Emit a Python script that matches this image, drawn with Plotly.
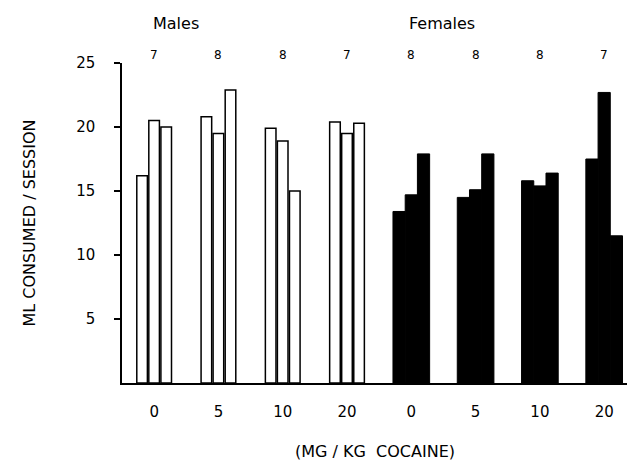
import plotly.graph_objects as go

doses = ["0", "5", "10", "20"]
sexes = ["Males", "Females"]
n_per_group = [7, 8, 8, 7, 8, 8, 8, 7]

# three bars per dose group (ml consumed / session)
male_a = [16.2, 20.8, 19.9, 20.4]
male_b = [20.5, 19.5, 18.9, 19.5]
male_c = [20.0, 22.9, 15.0, 20.3]
female_a = [13.4, 14.5, 15.8, 17.5]
female_b = [14.7, 15.1, 15.4, 22.7]
female_c = [17.9, 17.9, 16.4, 11.5]

tick_labels = doses + doses
male_x = list(range(len(doses)))
female_x = [i + len(doses) for i in range(len(doses))]
all_x = male_x + female_x

FONT = "DejaVu Sans"
fig = go.Figure()

male_offsets = [-0.27, -0.083, 0.105]
for vals, off in zip([male_a, male_b, male_c], male_offsets):
    fig.add_trace(go.Bar(
        x=male_x, y=vals, width=0.165, offset=off,
        marker=dict(color="white", line=dict(color="black", width=1.5)),
        showlegend=False,
    ))

female_offsets = [-0.285, -0.095, 0.095]
for vals, off in zip([female_a, female_b, female_c], female_offsets):
    fig.add_trace(go.Bar(
        x=female_x, y=vals, width=0.19, offset=off,
        marker=dict(color="black", line=dict(color="black", width=1)),
        showlegend=False,
    ))

annotations = []
for xi, n in zip(all_x, n_per_group):
    annotations.append(dict(
        x=xi, y=1.025, xref="x", yref="paper", text=str(n), showarrow=False,
        font=dict(family=FONT, size=12, color="black"), yanchor="middle",
    ))
for sex, xi in zip(sexes, [0.34, 4.48]):
    annotations.append(dict(
        x=xi, y=1.125, xref="x", yref="paper", text=sex, showarrow=False,
        font=dict(family=FONT, size=16, color="black"), yanchor="middle",
    ))
annotations.append(dict(
    x=0.5, xref="x domain", y=-0.215, yref="paper", text="(MG / KG  COCAINE)",
    showarrow=False, font=dict(family=FONT, size=16, color="black"), yanchor="middle",
))
annotations.append(dict(
    x=-0.185, xref="paper", y=0.5, yref="paper", text="ML CONSUMED / SESSION",
    textangle=-90, showarrow=False, font=dict(family=FONT, size=16, color="black"),
    xanchor="center", yanchor="middle",
))

fig.update_layout(
    width=627, height=468,
    margin=dict(l=122, r=0, t=63, b=85),
    paper_bgcolor="white", plot_bgcolor="white",
    barmode="overlay",
    annotations=annotations,
    font=dict(family=FONT, color="black"),
)
fig.update_xaxes(
    range=[-0.5, 7.355], tickmode="array", tickvals=all_x, ticktext=tick_labels,
    showline=True, linecolor="black", linewidth=1.5, ticks="", showgrid=False,
    zeroline=False, tickfont=dict(family=FONT, size=15, color="black"),
    ticklabelstandoff=14,
)
fig.update_yaxes(
    range=[0, 25], tickmode="array", tickvals=[5, 10, 15, 20, 25],
    showline=True, linecolor="black", linewidth=1.5, ticks="outside", ticklen=6,
    tickcolor="black", tickwidth=1.5, showgrid=False, zeroline=False,
    tickfont=dict(family=FONT, size=15, color="black"), ticklabelstandoff=16,
)

fig.write_html(
    "out.html",
    config={"displayModeBar": False},
    post_script="document.body.style.margin='0px';document.body.style.overflow='hidden';",
)
